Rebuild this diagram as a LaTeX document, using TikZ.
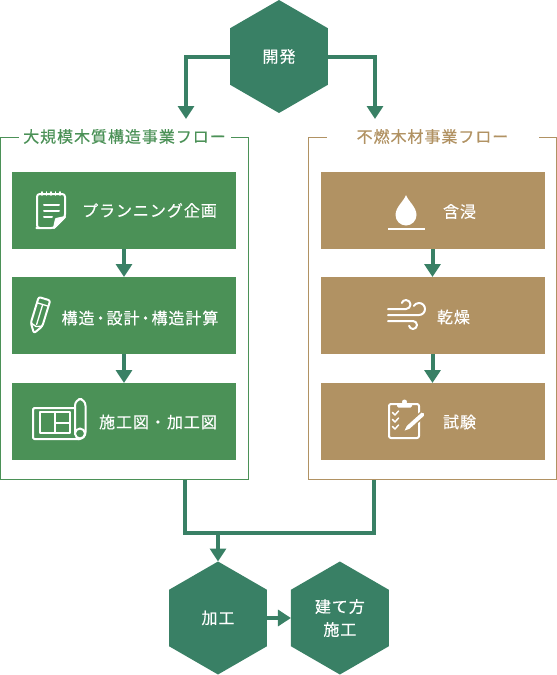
\documentclass[tikz,border=0pt]{standalone}
\usepackage{xcolor}
\usepackage{fontspec}
\setmainfont{Noto Sans CJK JP}[LetterSpace=6, FakeBold=0.35]
\usetikzlibrary{shapes.geometric, arrows.meta, positioning, calc}
\definecolor{hexgreen}{HTML}{398065}
\definecolor{boxgreen}{HTML}{4B9157}
\definecolor{woodtan}{HTML}{B19263}
\newcommand{\tightdot}{\kern-1.5pt・\kern-1.5pt}
\tikzset{
    hexnode/.style={
        regular polygon, regular polygon sides=6, regular polygon rotate=30,
        fill=hexgreen, text=white, minimum size=84.75pt,
        inner sep=0pt, outer sep=0pt, align=center,
        font=\fontsize{12}{17.25}\selectfont
    },
    stepbox/.style={
        rectangle, minimum width=168pt, minimum height=57.75pt,
        inner sep=0pt, outer sep=0pt
    },
    greenbox/.style={stepbox, fill=boxgreen},
    tanbox/.style={stepbox, fill=woodtan},
    boxlabel/.style={text=white, inner sep=0pt, font=\fontsize{12}{14}\selectfont},
    panel/.style={
        rectangle, draw, line width=0.75pt, fill=white,
        minimum width=186pt, minimum height=256.5pt, inner sep=0pt
    },
    paneltitle/.style={
        fill=white, minimum width=159pt, inner sep=0pt,
        font=\fontsize{12}{14}\selectfont
    },
    line/.style={draw=hexgreen, line width=3pt, -{Triangle[length=9.75pt, width=12pt]}},
    plainline/.style={draw=hexgreen, line width=3pt, line join=miter},
    icon/.style={draw=white, line width=1.5pt, line join=round, line cap=round}
}
\begin{document}
\begin{tikzpicture}[x=0.75pt, y=-0.75pt]
    \useasboundingbox (0,0) rectangle (557,675);

    % Hexagons
    \node [hexnode] (develop) at (279,56.5) {開発};
    \node [hexnode] (cutting) at (218,618) {加工};
    \node [hexnode, right=18pt of cutting] (erection) {建て方\\施工};

    % Panels
    \node [panel, draw=boxgreen] (timberpanel) at (124.5,308) {};
    \node [panel, draw=woodtan] (fireproofpanel) at (432.5,308) {};
    \node [paneltitle, text=boxgreen] (timbertitle) at (timberpanel.north) {大規模木質構造事業フロー};
    \node [paneltitle, text=woodtan] (fireprooftitle) at (fireproofpanel.north) {不燃木材事業フロー};

    % Steps
    \node [greenbox] (plan) at (124,210.5) {};
    \node [greenbox, below=21pt of plan] (design) {};
    \node [greenbox, below=21.75pt of design] (drawing) {};
    \node [tanbox] (soak) at (432.5,210.5) {};
    \node [tanbox, below=21pt of soak] (dry) {};
    \node [tanbox, below=21.75pt of dry] (test) {};

    % Step labels
    \node [boxlabel] (plantext) at ($(plan)+(25.5,0)$) {プランニング企画};
    \node [boxlabel] (designtext) at ($(design)+(16,2.5)$) {構造\tightdot 設計\tightdot 構造計算};
    \node [boxlabel] (drawingtext) at ($(drawing)+(34,0.5)$) {施工図・加工図};
    \node [boxlabel] (soaktext) at ($(soak)+(27,1)$) {含浸};
    \node [boxlabel] (drytext) at ($(dry)+(21,1.5)$) {乾燥};
    \node [boxlabel] (testtext) at ($(test)+(27,0.5)$) {試験};

    % Free ends
    \coordinate (timberin) at (186,119);
    \coordinate (fireproofin) at (375,119);
    \coordinate (joinleft) at (184.5,533);
    \coordinate (joinright) at (373.5,533);

    % Edges
    \draw [line] (develop.west) -| (timberin);
    \draw [line] (develop.east) -| (fireproofin);
    \draw [line] (plan.south) -- (design.north);
    \draw [line] (design.south) -- (drawing.north);
    \draw [line] (soak.south) -- (dry.north);
    \draw [line] (dry.south) -- (test.north);
    \draw [plainline] (joinleft |- timberpanel.south) -- (joinleft) -- (joinright) -- (joinright |- fireproofpanel.south);
    \draw [line] (cutting.north |- joinleft) -- (cutting.north);
    \draw [line] (cutting.east) -- (erection.west);

    % Memo icon
    \draw [icon, rounded corners=2pt] (54,228) -- (39,228) -- (37,228) -- (37,194) -- (65,194) -- (65,217) -- cycle;
    \draw [icon, fill=white] (65,217) -- (56,219) -- (54,228) -- cycle;
    \foreach \tick in {42,46.5,51,55.5,60} {
        \draw [icon, line width=1.2pt] (\tick,192) -- (\tick,195);
    }
    \draw [icon] (44,205) -- (59,205);
    \draw [icon] (44,211) -- (59,211);
    \draw [icon] (44,217) -- (52,217);

    % Pencil icon
    \begin{scope}[shift={(39.5,315)}, rotate=-17]
        \draw [icon, rounded corners=1.5pt] (-6,10) -- (-6,-17) -- (6,-17) -- (6,10) -- (0,19) -- cycle;
        \draw [icon, line width=1pt] (-6,-11) -- (6,-11);
        \draw [icon, line width=1pt] (0,-11) -- (0,10);
        \draw [icon, line width=1pt] (-6,10) -- (0,12) -- (6,10);
    \end{scope}

    % Blueprint icon
    \draw [icon, rounded corners=1pt] (75,408) -- (33,408) -- (33,439) -- (80,439);
    \draw [icon, rounded corners=5pt] (75,434) -- (75,399) -- (85.5,399) -- (85.5,439) -- (78,439);
    \draw [icon, fill=boxgreen] (80,433.5) circle [radius=5];
    \draw [icon, line cap=butt] (40,412) rectangle (70,433);
    \draw [icon, line cap=butt] (54.5,412) -- (54.5,433);
    \draw [icon, line cap=butt] (54.5,423) -- (70,423);

    % Drop icon
    \fill [white] (406,195) .. controls (404,201) and (395.5,207) .. (395.5,215)
        arc [start angle=180, end angle=0, radius=10.5]
        .. controls (416.5,207) and (408,201) .. (406,195);
    \draw [icon, line cap=butt] (388,229) -- (425,229);

    % Wind icon
    \draw [icon] (388,309) -- (406,309) arc [start angle=90, end angle=-160, radius=4.5];
    \draw [icon] (388,315) -- (419,315) arc [start angle=90, end angle=-150, radius=6];
    \draw [icon] (388,321) -- (413,321) arc [start angle=-90, end angle=170, radius=4];

    % Clipboard icon
    \draw [icon, rounded corners=1.5pt] (389,404) rectangle (419,438);
    \fill [white, rounded corners=1pt] (397,403) rectangle (412,407.5);
    \fill [white] (404.5,402) circle [radius=2.5];
    \draw [icon, line width=1.1pt] (392.5,412.5) -- (395,415) -- (398.5,411);
    \draw [icon, line width=1.1pt] (392.5,419.5) -- (395,422) -- (398.5,418);
    \draw [icon, line width=1.1pt] (392.5,426.5) -- (395,429) -- (398.5,425);
    \begin{scope}[shift={(403,432)}, rotate=42]
        \draw [fill=white, draw=woodtan, line width=1pt] (0,0) -- (7,-2.8) -- (27,-2.8) -- (29,0) -- (27,2.8) -- (7,2.8) -- cycle;
    \end{scope}
\end{tikzpicture}
\end{document}
